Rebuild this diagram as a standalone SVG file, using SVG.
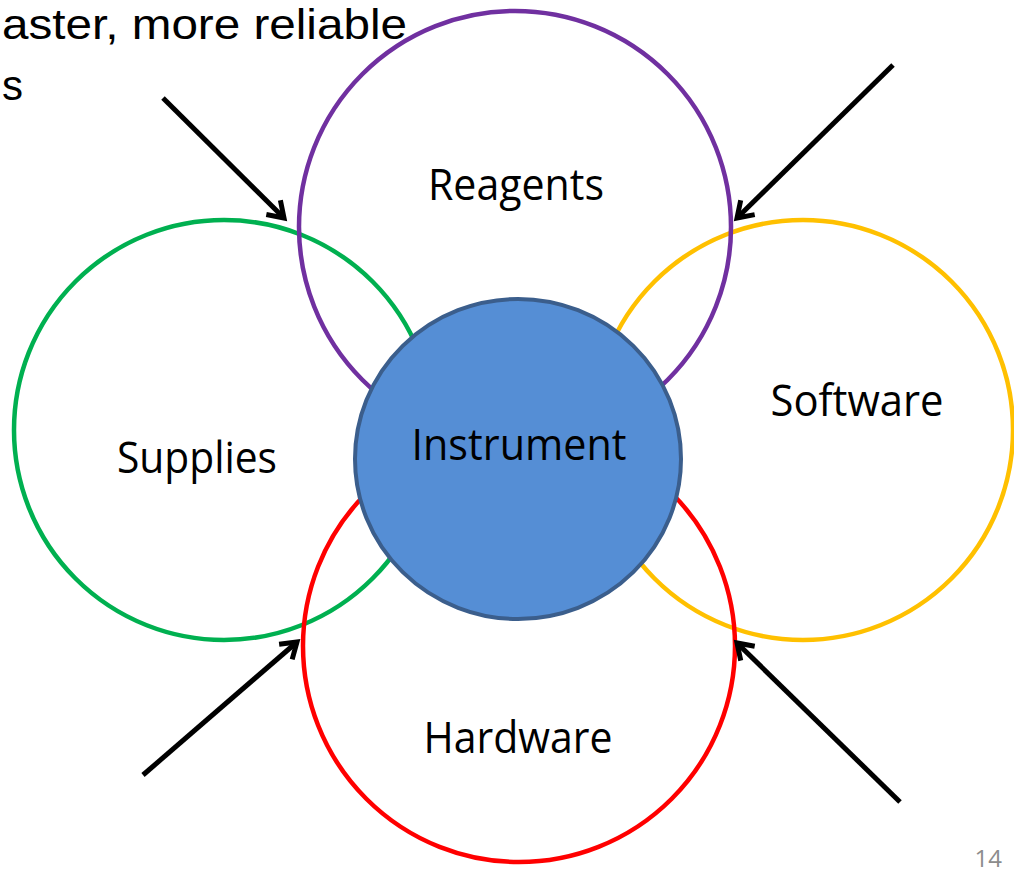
<svg xmlns="http://www.w3.org/2000/svg" width="1014" height="875" viewBox="0 0 1014 875">
  <defs>
    <marker id="chev" viewBox="-20 -12 24 24" markerWidth="24" markerHeight="24" refX="0" refY="0" orient="auto" markerUnits="userSpaceOnUse" overflow="visible">
      <path d="M -15 -10 L 0 0 L -15 10" fill="none" stroke="#000" stroke-width="5" stroke-linecap="butt" stroke-linejoin="miter"/>
    </marker>
  </defs>
  <style>
    .ring { fill: none; stroke-width: 4.5; }
    .lbl { font-family: "Open Sans", "Liberation Sans", sans-serif; font-size: 44px; fill: #000; text-anchor: middle; }
    .conn { stroke: #000; stroke-width: 5; fill: none; marker-end: url(#chev); }
  </style>
  <rect width="1014" height="875" fill="#fff"/>

  <g id="title-fragment">
    <text x="2" y="39" font-family="Liberation Sans, Arial, sans-serif" font-size="42" textLength="405" lengthAdjust="spacingAndGlyphs">aster, more reliable</text>
    <text x="2" y="100" font-family="Liberation Sans, Arial, sans-serif" font-size="42">s</text>
  </g>

  <g id="supplies">
    <circle class="ring" cx="224" cy="430" r="210" stroke="#00B050"/>
    <text class="lbl" x="197" y="473" textLength="160" lengthAdjust="spacingAndGlyphs">Supplies</text>
  </g>
  <g id="software">
    <circle class="ring" cx="803" cy="430" r="210" stroke="#FFC000"/>
    <text class="lbl" x="857" y="416" textLength="173" lengthAdjust="spacingAndGlyphs">Software</text>
  </g>
  <g id="reagents">
    <circle class="ring" cx="515" cy="227" r="216" stroke="#7030A0"/>
    <text class="lbl" x="516" y="200" textLength="176" lengthAdjust="spacingAndGlyphs">Reagents</text>
  </g>
  <g id="hardware">
    <circle class="ring" cx="519" cy="646" r="216" stroke="#FF0000"/>
    <text class="lbl" x="518" y="753" textLength="189" lengthAdjust="spacingAndGlyphs">Hardware</text>
  </g>
  <g id="instrument">
    <ellipse cx="518" cy="459" rx="163" ry="160" fill="#558ED5" stroke="#3B5E8C" stroke-width="4"/>
    <text class="lbl" x="519" y="460" textLength="215" lengthAdjust="spacingAndGlyphs">Instrument</text>
  </g>

  <g id="connectors">
    <line class="conn" x1="163" y1="98" x2="284" y2="218"/>
    <line class="conn" x1="893" y1="65" x2="737" y2="218"/>
    <line class="conn" x1="143" y1="775" x2="297" y2="642"/>
    <line class="conn" x1="900" y1="802" x2="737" y2="643"/>
  </g>

  <g id="page-number">
    <text x="1002" y="867" font-family="Open Sans, Liberation Sans, sans-serif" font-size="24" fill="#8C8C8C" text-anchor="end">14</text>
  </g>
</svg>
